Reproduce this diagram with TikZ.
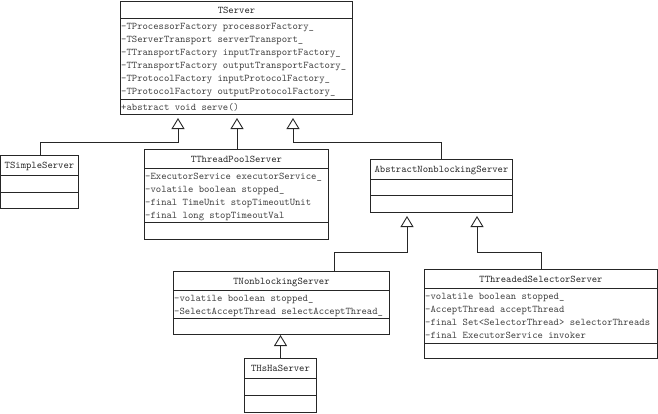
\documentclass[tikz,border=0pt]{standalone}
\usepackage{fontspec}
\usetikzlibrary{arrows.meta,calc}

\begin{document}
\begin{tikzpicture}[x=1pt,y=-1pt]
	\tikzstyle{cls} = [draw, rectangle, anchor=north west, inner sep=0pt, line width=1pt, color=black!85];
	\tikzstyle{clsname} = [font={\fontsize{10.2}{12}\ttfamily}, inner sep=0pt, text height=7pt, text depth=0pt, color=black!85];
	\tikzstyle{attr} = [clsname, anchor=west, color=black!75];
	\tikzstyle{rowline} = [line width=1pt, color=black!85];
	\tikzstyle{inherit} = [-{Triangle[open,width=13pt,length=11pt]}, line width=0.9pt, color=black!85, shorten >=3pt];

	\useasboundingbox (0,0) rectangle (658,413);

	% class boxes
	\node[cls, minimum width=232pt, minimum height=113pt] (tserver) at (120,1) {};
	\node[cls, minimum width=78pt, minimum height=53pt] (tsimple) at (0,155) {};
	\node[cls, minimum width=184pt, minimum height=90pt] (tpool) at (144,149) {};
	\node[cls, minimum width=142pt, minimum height=53pt] (abs) at (370,159) {};
	\node[cls, minimum width=216pt, minimum height=63pt] (tnb) at (173,271) {};
	\node[cls, minimum width=72pt, minimum height=54pt] (thsha) at (244,358) {};
	\node[cls, minimum width=233pt, minimum height=89pt] (tsel) at (424,269) {};

	% compartments
	\foreach \n/\o in {tserver/17, tserver/98, tsimple/20, tsimple/37, tpool/19, tpool/73,
		abs/20, abs/36, tnb/19, tnb/47, thsha/20, thsha/37, tsel/19, tsel/74}
		\draw[rowline] ($(\n.north west)+(0,\o)$) -- ($(\n.north east)+(0,\o)$);

	% names
	\node[clsname] at ($(tserver.north)+(0,8.5)$) {TServer};
	\node[clsname] at ($(tsimple.north)+(0,10)$) {TSimpleServer};
	\node[clsname] at ($(tpool.north)+(0,9.5)$) {TThreadPoolServer};
	\node[clsname] at ($(abs.north)+(0,10)$) {AbstractNonblockingServer};
	\node[clsname] at ($(tnb.north)+(0,9.5)$) {TNonblockingServer};
	\node[clsname] at ($(thsha.north)+(0,10)$) {THsHaServer};
	\node[clsname] at ($(tsel.north)+(0,9.5)$) {TThreadedSelectorServer};

	% members
	\foreach \t [count=\i from 0] in {-TProcessorFactory processorFactory\_,
		-TServerTransport serverTransport\_,
		-TTransportFactory inputTransportFactory\_,
		-TTransportFactory outputTransportFactory\_,
		-TProtocolFactory inputProtocolFactory\_,
		-TProtocolFactory outputProtocolFactory\_}
		\node[attr] at ($(tserver.north west)+(1,25+13*\i)$) {\t};
	\node[attr] at ($(tserver.north west)+(1,105.5)$) {+abstract void serve()};

	\foreach \t [count=\i from 0] in {-ExecutorService executorService\_,
		-volatile boolean stopped\_,
		-final TimeUnit stopTimeoutUnit,
		-final long stopTimeoutVal}
		\node[attr] at ($(tpool.north west)+(1,27+13*\i)$) {\t};

	\foreach \t [count=\i from 0] in {-volatile boolean stopped\_,
		-SelectAcceptThread selectAcceptThread\_}
		\node[attr] at ($(tnb.north west)+(1,27+13*\i)$) {\t};

	\foreach \t [count=\i from 0] in {-volatile boolean stopped\_,
		-AcceptThread acceptThread,
		-final Set<SelectorThread> selectorThreads,
		-final ExecutorService invoker}
		\node[attr] at ($(tsel.north west)+(1,27+13*\i)$) {\t};

	% generalisations
	\draw[inherit] ($(tsimple.north west)+(40,0)$) -- ++(0,-13) -| ($(tserver.south west)+(58,0)$);
	\draw[inherit] ($(tpool.north west)+(93,0)$) -- ($(tserver.south west)+(117,0)$);
	\draw[inherit] (abs.north) -- ++(0,-17) -| ($(tserver.south west)+(173,0)$);
	\draw[inherit] ($(tnb.north west)+(161,0)$) -- ++(0,-19) -| ($(abs.south west)+(37,0)$);
	\draw[inherit] (tsel.north) -- ++(0,-17) -| ($(abs.south west)+(107,0)$);
	\draw[inherit, shorten >=0pt] (thsha.north) -- (thsha.north |- tnb.south);
\end{tikzpicture}
\end{document}
